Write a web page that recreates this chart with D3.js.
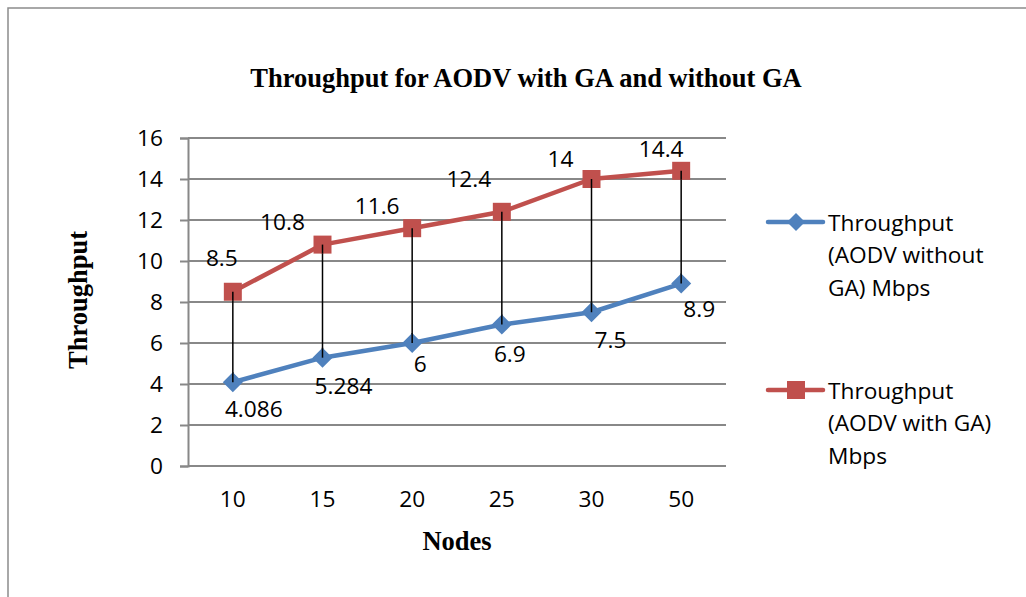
<!DOCTYPE html>
<html>
<head>
<meta charset="utf-8">
<script src="https://cdn.jsdelivr.net/npm/d3@7"></script>
<style>
  body { margin: 0; background: #fff; }
  svg { display: block; }
  text { font-family: "Open Sans", "Liberation Sans", sans-serif; fill: #000; }
  .serif { font-family: "Liberation Serif", "DejaVu Serif", serif; font-weight: bold; }
</style>
</head>
<body>
<div id="container"></div>
<script>
// chart data
var nodes = ["10", "15", "20", "25", "30", "50"];
var withoutGA = [4.086, 5.284, 6, 6.9, 7.5, 8.9];
var withGA = [8.5, 10.8, 11.6, 12.4, 14, 14.4];
var withoutLabels = ["4.086", "5.284", "6", "6.9", "7.5", "8.9"];
var withLabels = ["8.5", "10.8", "11.6", "12.4", "14", "14.4"];
var yTicks = [0, 2, 4, 6, 8, 10, 12, 14, 16];
var seriesNames = [
  ["Throughput", "(AODV without", "GA) Mbps"],
  ["Throughput", "(AODV with GA)", "Mbps"]
];

// label nudges (Excel placed them around the markers)
var withOffsets = [[-11, -34], [-40, -23], [-35, -23], [-33, -33], [-31, -21], [-20, -22]];
var withoutOffsets = [[21, 26], [21, 28], [8, 20], [8, 29], [19, 27], [18, 25]];

var width = 1026, height = 597;
var blue = "#4f81bd", red = "#c0504d";
var fontSize = "22.7px", titleSize = "26.5px";

var svg = d3.select("#container").append("svg")
    .attr("width", width)
    .attr("height", height);

// outer frame
svg.append("rect")
    .attr("x", 8).attr("y", 8)
    .attr("width", 1030).attr("height", 600)
    .attr("fill", "none")
    .attr("stroke", "#8c8c8c")
    .attr("stroke-width", 1.5);

var plot = {left: 188, right: 726, top: 138, bottom: 466};

var x = d3.scaleBand()
    .domain(nodes)
    .range([plot.left, plot.right]);

var y = d3.scaleLinear()
    .domain([0, 16])
    .range([plot.bottom, plot.top]);

function cx(d, i) { return x(nodes[i]) + x.bandwidth() / 2; }

// gridlines + y axis
var yAxis = svg.append("g")
    .attr("transform", "translate(" + plot.left + ",0)")
    .call(d3.axisLeft(y).tickValues(yTicks).tickSize(8).tickPadding(17)
        .tickFormat(d3.format("d")));
yAxis.select(".domain").attr("stroke", "#888").attr("stroke-width", 2);
yAxis.selectAll(".tick line").attr("stroke", "#888").attr("stroke-width", 2);
yAxis.selectAll(".tick text").style("font-size", fontSize);

svg.append("g").selectAll("line")
    .data(yTicks)
    .enter().append("line")
    .attr("x1", plot.left).attr("x2", plot.right)
    .attr("y1", function(d) { return y(d); })
    .attr("y2", function(d) { return y(d); })
    .attr("stroke", "#888")
    .attr("stroke-width", 2);

// x axis labels
var xAxis = svg.append("g")
    .attr("transform", "translate(0," + plot.bottom + ")")
    .call(d3.axisBottom(x).tickSize(0).tickPadding(25));
xAxis.select(".domain").remove();
xAxis.selectAll(".tick text").style("font-size", fontSize);

// high-low lines
svg.append("g").selectAll("line")
    .data(withGA)
    .enter().append("line")
    .attr("x1", cx).attr("x2", cx)
    .attr("y1", function(d) { return y(d); })
    .attr("y2", function(d, i) { return y(withoutGA[i]); })
    .attr("stroke", "#000")
    .attr("stroke-width", 1.5);

var line = d3.line()
    .x(cx)
    .y(function(d) { return y(d); });

function drawSeries(values, color, shape) {
  svg.append("path")
      .datum(values)
      .attr("d", line)
      .attr("fill", "none")
      .attr("stroke", color)
      .attr("stroke-width", 4.5)
      .attr("stroke-linejoin", "round");
  svg.append("g").selectAll("path")
      .data(values)
      .enter().append("path")
      .attr("d", shape)
      .attr("transform", function(d, i) { return "translate(" + cx(d, i) + "," + y(d) + ")"; })
      .attr("fill", color);
}

var square = "M-9,-9H9V9H-9Z";

drawSeries(withoutGA, blue, "M0,-10L10,0L0,10L-10,0Z");
drawSeries(withGA, red, square);

// keep the drop lines visible over the markers like the original
svg.append("g").selectAll("line")
    .data(withGA)
    .enter().append("line")
    .attr("x1", cx).attr("x2", cx)
    .attr("y1", function(d) { return y(d); })
    .attr("y2", function(d, i) { return y(d) + 9; })
    .attr("stroke", "#000")
    .attr("stroke-width", 1.5);
svg.append("g").selectAll("line")
    .data(withoutGA)
    .enter().append("line")
    .attr("x1", cx).attr("x2", cx)
    .attr("y1", function(d) { return y(d) - 10; })
    .attr("y2", function(d) { return y(d); })
    .attr("stroke", "#000")
    .attr("stroke-width", 1.5);

// data labels
svg.append("g").selectAll("text")
    .data(withGA)
    .enter().append("text")
    .attr("x", function(d, i) { return cx(d, i) + withOffsets[i][0]; })
    .attr("y", function(d, i) { return y(d) + withOffsets[i][1]; })
    .attr("text-anchor", "middle")
    .attr("dominant-baseline", "central")
    .style("font-size", fontSize)
    .text(function(d, i) { return withLabels[i]; });

svg.append("g").selectAll("text")
    .data(withoutGA)
    .enter().append("text")
    .attr("x", function(d, i) { return cx(d, i) + withoutOffsets[i][0]; })
    .attr("y", function(d, i) { return y(d) + withoutOffsets[i][1]; })
    .attr("text-anchor", "middle")
    .attr("dominant-baseline", "central")
    .style("font-size", fontSize)
    .text(function(d, i) { return withoutLabels[i]; });

// titles
svg.append("text")
    .attr("class", "serif")
    .attr("x", 526).attr("y", 78)
    .attr("text-anchor", "middle")
    .attr("dominant-baseline", "central")
    .style("font-size", titleSize)
    .text("Throughput for AODV with GA and without GA");

svg.append("text")
    .attr("class", "serif")
    .attr("x", 457).attr("y", 541)
    .attr("text-anchor", "middle")
    .attr("dominant-baseline", "central")
    .style("font-size", titleSize)
    .text("Nodes");

svg.append("text")
    .attr("class", "serif")
    .attr("transform", "translate(78,300) rotate(-90)")
    .attr("text-anchor", "middle")
    .attr("dominant-baseline", "central")
    .style("font-size", titleSize)
    .text("Throughput");

// legend
var legend = svg.append("g").selectAll("g")
    .data(seriesNames)
    .enter().append("g")
    .attr("transform", function(d, i) { return "translate(768," + (222 + i * 168) + ")"; });

legend.append("line")
    .attr("x1", 0).attr("x2", 55)
    .attr("stroke", function(d, i) { return i ? red : blue; })
    .attr("stroke-width", 4.5)
    .attr("stroke-linecap", "round");

legend.append("path")
    .attr("d", function(d, i) { return i ? square : "M0,-9L9,0L0,9L-9,0Z"; })
    .attr("transform", "translate(28,0)")
    .attr("fill", function(d, i) { return i ? red : blue; });

legend.each(function(d) {
  var g = d3.select(this);
  d.forEach(function(t, k) {
    g.append("text")
        .attr("x", 60)
        .attr("y", k * 32.5)
        .attr("dominant-baseline", "central")
        .style("font-size", fontSize)
        .text(t);
  });
});
</script>
</body>
</html>
